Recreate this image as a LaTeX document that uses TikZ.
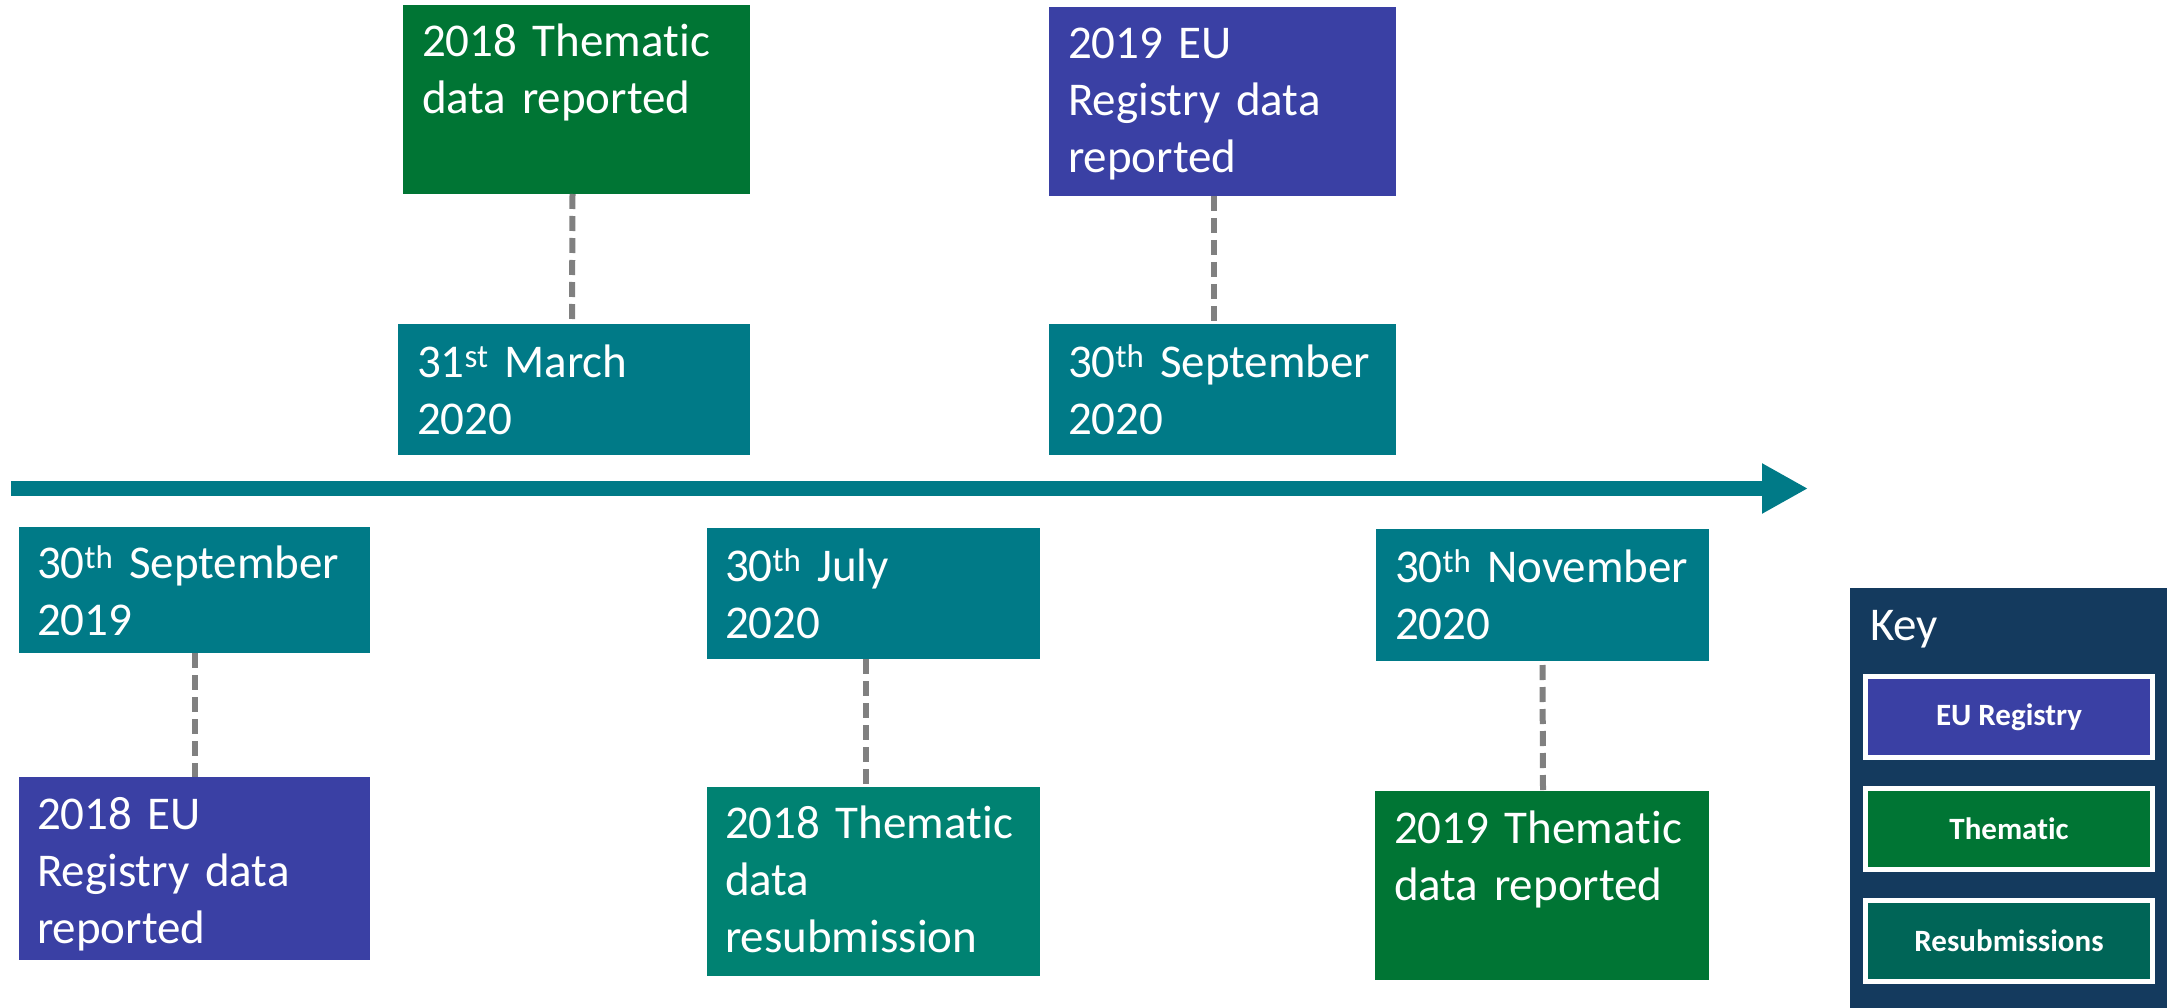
\documentclass[tikz,border=0pt]{standalone}
\usepackage{fontspec}
\setmainfont{Carlito}[Ligatures={NoCommon}]
\usetikzlibrary{arrows.meta}
\definecolor{datecol}{HTML}{007A87}
\definecolor{eucol}{HTML}{3A40A4}
\definecolor{themcol}{HTML}{007534}
\definecolor{resubcol}{HTML}{008272}
\definecolor{keybgcol}{HTML}{143A5E}
\definecolor{keyresub}{HTML}{006557}
\definecolor{linkcol}{HTML}{808080}
\begin{document}
\begin{tikzpicture}[x=1pt,y=-1pt,
  box/.style={rectangle, inner sep=0pt, outer sep=0pt, anchor=north west, draw=none},
  datebox/.style={box, fill=datecol},
  eubox/.style={box, fill=eucol},
  thembox/.style={box, fill=themcol},
  resubbox/.style={box, fill=resubcol},
  boxtext/.style={anchor=base west, inner sep=0pt, outer sep=0pt, text=white,
    font=\fontsize{47}{57}\selectfont, align=left, text width=340pt},
  dashlink/.style={draw=linkcol, line width=6pt, dash pattern=on 15pt off 7pt},
  keyitem/.style={rectangle, inner sep=0pt, outer sep=0pt, draw=white, line width=5pt,
    minimum width=287pt, minimum height=81pt, text=white,
    font=\fontsize{31}{36}\selectfont\bfseries},
]
\useasboundingbox (0,0) rectangle (2176,1008);

% timeline arrow
\coordinate (arrstart) at (11,488.5);
\coordinate (arrend) at (1808,488.5);
\draw[datecol, line width=15pt, -{Triangle[length=46pt,width=47pt]}] (arrstart) -- (arrend);

% boxes
\node[datebox, minimum width=351pt, minimum height=126pt] (d1) at (19,527) {};
\node[eubox, minimum width=351pt, minimum height=183pt] (e1) at (19,777) {};
\node[datebox, minimum width=352pt, minimum height=131pt] (d2) at (398,324) {};
\node[thembox, minimum width=347pt, minimum height=189pt] (t1) at (403,5) {};
\node[datebox, minimum width=333pt, minimum height=131pt] (d3) at (707,528) {};
\node[resubbox, minimum width=333pt, minimum height=189pt] (r1) at (707,787) {};
\node[datebox, minimum width=347pt, minimum height=131pt] (d4) at (1049,324) {};
\node[eubox, minimum width=347pt, minimum height=189pt] (e2) at (1049,7) {};
\node[datebox, minimum width=333pt, minimum height=132pt] (d5) at (1376,529) {};
\node[thembox, minimum width=334pt, minimum height=189pt] (t2) at (1375,791) {};

% texts
\node[boxtext] (d1t) at ([xshift=18pt,yshift=-51pt]d1.north west) {30\textsuperscript{th} September\\2019};
\node[boxtext] (e1t) at ([xshift=18pt,yshift=-52pt]e1.north west) {2018 EU\\Registry data\\reported};
\node[boxtext] (d2t) at ([xshift=19pt,yshift=-53pt]d2.north west) {31\textsuperscript{st} March\\2020};
\node[boxtext] (t1t) at ([xshift=19pt,yshift=-52pt]t1.north west) {2018 Thematic\\data reported};
\node[boxtext] (d3t) at ([xshift=18pt,yshift=-53pt]d3.north west) {30\textsuperscript{th} July\\2020};
\node[boxtext] (r1t) at ([xshift=18pt,yshift=-51pt]r1.north west) {2018 Thematic\\data\\resubmission};
\node[boxtext] (d4t) at ([xshift=19pt,yshift=-53pt]d4.north west) {30\textsuperscript{th} September\\2020};
\node[boxtext] (e2t) at ([xshift=19pt,yshift=-52pt]e2.north west) {2019 EU\\Registry data\\reported};
\node[boxtext] (d5t) at ([xshift=19pt,yshift=-53pt]d5.north west) {30\textsuperscript{th} November\\2020};
\node[boxtext] (t2t) at ([xshift=19pt,yshift=-52pt]t2.north west) {2019 Thematic\\data reported};

% dashed connectors
\draw[dashlink] (d1.south) -- (e1.north);
\draw[dashlink] ([xshift=-4pt]t1.south) -- ([xshift=-2pt]d2.north);
\draw[dashlink] ([xshift=-8pt]d3.south) -- ([xshift=-8pt]r1.north);
\draw[dashlink] ([xshift=-9pt]e2.south) -- ([xshift=-9pt]d4.north);
\draw[dashlink, shorten <=4pt] (d5.south) -- ([xshift=1pt]t2.north);

% key
\node[box, fill=keybgcol, minimum width=317pt, minimum height=420pt] (key) at (1850,588) {};
\node[anchor=base west, inner sep=0pt, text=white, font=\fontsize{47}{57}\selectfont] (keytitle) at ([xshift=20pt,yshift=-52pt]key.north west) {Key};
\node[keyitem, fill=eucol] (keyeu) at (2009,717) {EU Registry};
\node[keyitem, fill=themcol] (keythem) at (2009,829) {Thematic};
\node[keyitem, fill=keyresub] (keyresub) at (2009,941) {Resubmissions};
\end{tikzpicture}
\end{document}
